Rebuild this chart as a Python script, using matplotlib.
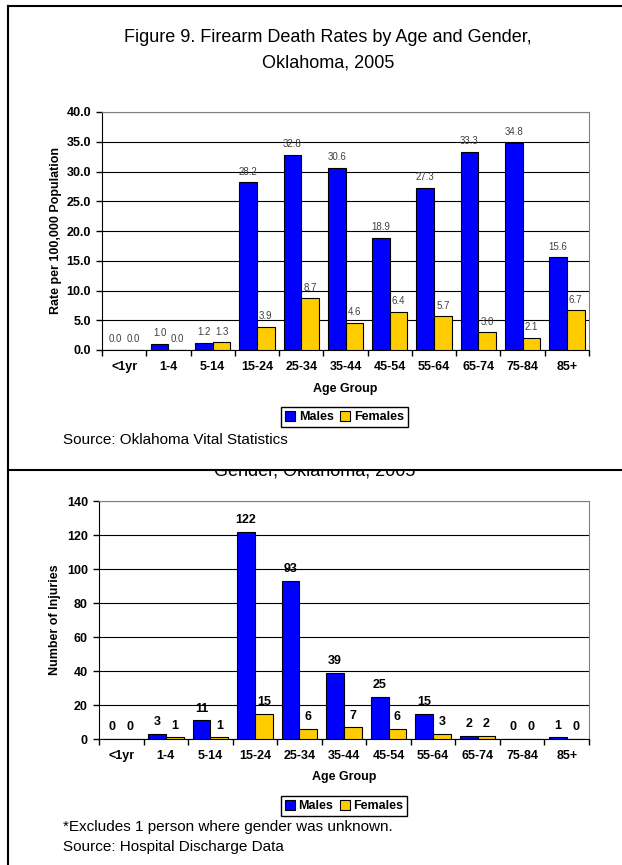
import numpy as np
import matplotlib
matplotlib.use("Agg")
import matplotlib.pyplot as plt
from matplotlib import font_manager
from matplotlib.lines import Line2D
from matplotlib.patches import Patch, Rectangle

age_groups = ["<1yr", "1-4", "5-14", "15-24", "25-34", "35-44",
              "45-54", "55-64", "65-74", "75-84", "85+"]

# Figure 9: death rates per 100,000
male_rates = [0.0, 1.0, 1.2, 28.2, 32.8, 30.6, 18.9, 27.3, 33.3, 34.8, 15.6]
female_rates = [0.0, 0.0, 1.3, 3.9, 8.7, 4.6, 6.4, 5.7, 3.0, 2.1, 6.7]
rate_ticks = [0, 5, 10, 15, 20, 25, 30, 35, 40]

# second chart: injuries (hospital discharge)
male_injuries = [0, 3, 11, 122, 93, 39, 25, 15, 2, 0, 1]
female_injuries = [0, 1, 1, 15, 6, 7, 6, 3, 2, 0, 0]
injury_ticks = [0, 20, 40, 60, 80, 100, 120, 140]

plt.rcParams['font.family'] = ['Liberation Sans', 'DejaVu Sans']

names = {f.name for f in font_manager.fontManager.ttflist}
narrow = 'Liberation Sans Narrow' if 'Liberation Sans Narrow' in names else 'Liberation Sans'

W, H = 622, 865
fig = plt.figure(figsize=(W / 100, H / 100), dpi=100)


def fx(px):
    return px / W


def fy(py):
    return 1 - py / H


def draw_bars(ax, males, females, ticks, fmt, label_kw):
    x = np.arange(len(age_groups))
    bw = 0.4
    mb = ax.bar(x - bw / 2, males, bw, color='#0000FF', edgecolor='black', linewidth=0.8, zorder=3)
    fb = ax.bar(x + bw / 2, females, bw, color='#FFCC00', edgecolor='black', linewidth=0.8, zorder=3)
    for bars, vals in ((mb, males), (fb, females)):
        for b, v in zip(bars, vals):
            ax.annotate(fmt.format(v), (b.get_x() + b.get_width() / 2, v),
                        xytext=(0, 4), textcoords='offset points',
                        ha='center', va='bottom', zorder=4, **label_kw)

    ax.set_xlim(-0.5, len(age_groups) - 0.5)
    ax.set_ylim(ticks[0], ticks[-1])
    ax.set_yticks(ticks)
    # ticks between categories, labels in the middle (excel style)
    ax.set_xticks(np.arange(len(age_groups) + 1) - 0.5)
    ax.set_xticklabels([])
    ax.set_xticks(x, minor=True)
    ax.set_xticklabels(age_groups, minor=True, fontsize=9, fontweight='bold')
    ax.tick_params(axis='x', which='major', length=4, width=1, direction='out')
    ax.tick_params(axis='x', which='minor', length=0, pad=8)
    ax.tick_params(axis='y', length=4, width=1, pad=4, labelsize=9)
    for lab in ax.get_yticklabels():
        lab.set_fontweight('bold')

    ax.yaxis.grid(True, color='black', linewidth=0.8)
    ax.set_axisbelow(True)
    for s in ('top', 'right'):
        ax.spines[s].set_color('#808080')
    ax.spines['left'].set_color('black')
    ax.spines['bottom'].set_color('black')
    return mb, fb


def add_legend(cx, cy):
    handles = [Patch(facecolor='#0000FF', edgecolor='black', linewidth=0.8),
               Patch(facecolor='#FFCC00', edgecolor='black', linewidth=0.8)]
    leg = fig.legend(handles, ['Males', 'Females'], loc='center',
                     bbox_to_anchor=(fx(cx), fy(cy)), ncol=2,
                     prop={'size': 9, 'weight': 'bold'},
                     handlelength=0.8, handleheight=0.8, handletextpad=0.3,
                     columnspacing=0.5, borderpad=0.3, borderaxespad=0,
                     fancybox=False, framealpha=1, edgecolor='black')
    leg.get_frame().set_linewidth(1)


# ---- top chart ----
ax1 = fig.add_axes([fx(102), fy(350), fx(589) - fx(102), fy(112) - fy(350)])
draw_bars(ax1, male_rates, female_rates, rate_ticks, '{:.1f}',
          dict(fontsize=7, color='#404040', family=narrow))
ax1.yaxis.set_major_formatter(matplotlib.ticker.FormatStrFormatter('%.1f'))
for lab in ax1.get_yticklabels():
    lab.set_fontweight('bold')

fig.text(fx(328), fy(38), "Figure 9. Firearm Death Rates by Age and Gender,",
         ha='center', va='center', fontsize=13)
fig.text(fx(328), fy(63), "Oklahoma, 2005", ha='center', va='center', fontsize=13)
fig.text(fx(56), fy(231), "Rate per 100,000 Population", rotation=90,
         ha='center', va='center', fontsize=9, fontweight='bold')
fig.text(fx(345), fy(389), "Age Group", ha='center', va='center', fontsize=9, fontweight='bold')
add_legend(344.5, 417)
fig.text(fx(63), fy(440), "Source: Oklahoma Vital Statistics", ha='left', va='center', fontsize=11)

# ---- bottom chart ----
ax2 = fig.add_axes([fx(99), fy(739), fx(589) - fx(99), fy(501) - fy(739)])
draw_bars(ax2, male_injuries, female_injuries, injury_ticks, '{:d}',
          dict(fontsize=9, fontweight='bold', color='black'))

# title of the second chart, mostly hidden under the divider
fig.text(fx(315), fy(475), "Gender, Oklahoma, 2005", ha='center', va='baseline',
         fontsize=13, zorder=1)
fig.add_artist(Rectangle((fx(180), fy(470)), fx(460) - fx(180), fy(452) - fy(470),
                         transform=fig.transFigure, facecolor='white', edgecolor='none', zorder=2))

fig.text(fx(55), fy(620), "Number of Injuries", rotation=90,
         ha='center', va='center', fontsize=9, fontweight='bold')
fig.text(fx(344), fy(777), "Age Group", ha='center', va='center', fontsize=9, fontweight='bold')
add_legend(344, 806)
fig.text(fx(63), fy(827), "*Excludes 1 person where gender was unknown.", ha='left', va='center', fontsize=11)
fig.text(fx(63), fy(847), "Source: Hospital Discharge Data", ha='left', va='center', fontsize=11)

# page borders
for xs, ys in (([8, 8], [6, 865]), ([8, 622], [6, 6]), ([8, 622], [470, 470])):
    fig.add_artist(Line2D([fx(v) for v in xs], [fy(v) for v in ys],
                          transform=fig.transFigure, color='black', lw=1.5, zorder=3))

fig.savefig("out.png", dpi=100, facecolor='white')
